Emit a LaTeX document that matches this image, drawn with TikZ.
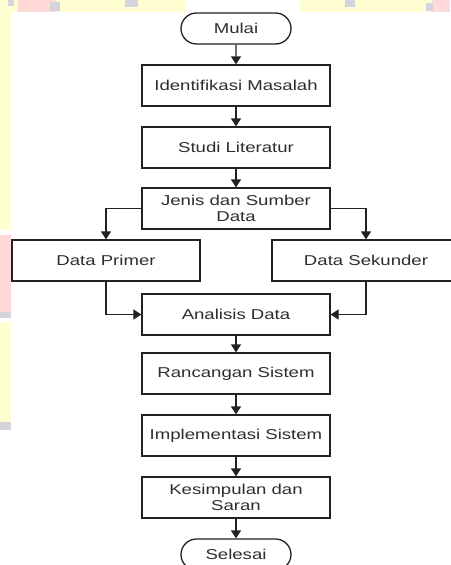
\documentclass[tikz,border=0pt]{standalone}
\usepackage{fontspec}
\setmainfont{Liberation Sans}[FakeStretch=1.3]
\usetikzlibrary{arrows.meta,shapes.misc}
\definecolor{bgyel}{HTML}{FFFDD2}
\definecolor{bgpink}{HTML}{FFD8D8}
\definecolor{bggray}{HTML}{D4D4DC}
\definecolor{txt}{HTML}{2E2E2E}
\definecolor{ln}{HTML}{222222}
\begin{document}
\begin{tikzpicture}[x=1pt,y=-1pt,
  stepbox/.style={draw=ln,line width=1.3pt,minimum width=188pt,minimum height=41pt,inner sep=0pt,align=center,font=\fontsize{14.3}{15.5}\selectfont,text=txt},
  termbox/.style={draw=ln,line width=1.3pt,rounded rectangle,minimum width=110pt,minimum height=31pt,inner sep=0pt,font=\fontsize{14.3}{15}\selectfont,text=txt},
  arr/.style={draw=ln,line width=1.3pt,-{Triangle[width=10pt,length=8pt]}}]
\useasboundingbox (0,0) rectangle (450,565);
\fill[white] (0,0) rectangle (450,565);
% background stains
\fill[bgyel] (0,0) rectangle (450,12);
\fill[bgpink] (18,0) rectangle (56,12);
\fill[bgpink] (432,0) rectangle (450,12);
\fill[white] (186,0) rectangle (300,12);
\fill[bggray] (8,0) rectangle (14,6);
\fill[bggray] (50,2) rectangle (60,11);
\fill[bggray] (125,0) rectangle (138,7);
\fill[bggray] (345,0) rectangle (355,7);
\fill[bggray] (426,3) rectangle (433,11);
\fill[bgyel] (0,12) rectangle (11,230);
\fill[bgpink] (0,235) rectangle (11,312);
\fill[bggray] (0,312) rectangle (11,318);
\fill[bgyel] (0,322) rectangle (11,422);
\fill[bggray] (0,422) rectangle (11,430);
% nodes
\node[termbox] (mulai) at (236,28.5) {Mulai};
\node[stepbox] (ident) at (236,85.5) {Identifikasi Masalah};
\node[stepbox] (studi) at (236,147.5) {Studi Literatur};
\node[stepbox] (jenis) at (236,208.5) {Jenis dan Sumber\\Data};
\node[stepbox] (primer) at (106,260.5) {Data Primer};
\node[stepbox] (sekunder) at (366,260.5) {Data Sekunder};
\node[stepbox] (analisis) at (236,314.5) {Analisis Data};
\node[stepbox] (rancang) at (236,373.5) {Rancangan Sistem};
\node[stepbox] (impl) at (236,435.5) {Implementasi Sistem};
\node[stepbox] (kesim) at (236,497.5) {Kesimpulan dan\\Saran};
\node[termbox] (selesai) at (236,554.5) {Selesai};
% connectors
\draw[arr] (mulai) -- (ident);
\draw[arr] (ident) -- (studi);
\draw[arr] (studi) -- (jenis);
\draw[arr] (jenis.west) -| (primer.north);
\draw[arr] (jenis.east) -| (sekunder.north);
\draw[arr] (primer.south) |- (analisis.west);
\draw[arr] (sekunder.south) |- (analisis.east);
\draw[arr] (analisis) -- (rancang);
\draw[arr] (rancang) -- (impl);
\draw[arr] (impl) -- (kesim);
\draw[arr] (kesim) -- (selesai);
\end{tikzpicture}
\end{document}
